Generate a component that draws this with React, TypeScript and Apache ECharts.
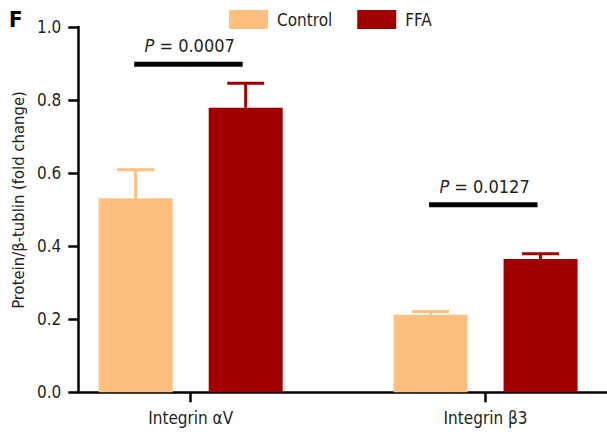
import React, { useEffect, useRef } from "react";
import * as echarts from "echarts";

const categories = ["Integrin αV", "Integrin β3"];
const seriesNames = ["Control", "FFA"];
const controlMean = [0.531, 0.212];
const controlUpper = [0.609, 0.221];
const ffaMean = [0.779, 0.365];
const ffaUpper = [0.846, 0.379];
const sigLevel = [0.898, 0.5135];
const pValues = ["0.0007", "0.0127"];
const yMin = 0;
const yMax = 1;
const yStep = 0.2;

const FONT = "'DejaVu Sans Condensed', 'DejaVu Sans', sans-serif";
const TEXT = "#231f20";
const C_CONTROL = "#ffc07f";
const C_FFA = "#a00000";
const BAR_W = 74;
const BAR_GAP = 36;
const OFFSET = (BAR_W + BAR_GAP) / 2;

function errorSeries(name: string, means: number[], uppers: number[], color: string, dx: number) {
  return {
    type: "custom",
    name,
    xAxisIndex: 1,
    yAxisIndex: 1,
    z: 1,
    data: means.map((m, i) => [i, m, uppers[i]]),
    renderItem: (params: any, api: any) => {
      const ci = api.value(0);
      const base = api.coord([ci, api.value(1)]);
      const top = api.coord([ci, api.value(2)]);
      const x = base[0] + dx;
      return {
        type: "group",
        children: [
          { type: "line", shape: { x1: x, y1: base[1], x2: x, y2: top[1] }, style: { stroke: color, lineWidth: 3 } },
          { type: "line", shape: { x1: x - 18.5, y1: top[1], x2: x + 18.5, y2: top[1] }, style: { stroke: color, lineWidth: 3 } },
        ],
      };
    },
  };
}

export default function App() {
  const ref = useRef<HTMLDivElement>(null);
  useEffect(() => {
    document.body.style.margin = "0";
    const chart = echarts.init(ref.current!, null, { renderer: "svg" });
    chart.setOption({
      animation: false,
      backgroundColor: "#fff",
      textStyle: { fontFamily: FONT, color: TEXT },
      legend: {
        data: seriesNames,
        left: 229,
        top: 10,
        padding: 0,
        itemWidth: 39,
        itemHeight: 19,
        itemGap: 25,
        icon: "rect",
        textStyle: { fontFamily: FONT, fontSize: 17, color: TEXT, padding: [0, 0, 0, 4] },
      },
      grid: [
        { left: 78.3, right: 0, top: 27, bottom: 41.7, outerBoundsMode: "none" },
        { left: 43.25, width: 589.75, top: 27, bottom: 41.7, outerBoundsMode: "none" },
      ],
      xAxis: [
        {
          gridIndex: 0,
          type: "value",
          min: 0,
          max: 1,
          axisLine: { show: true, lineStyle: { color: "#000", width: 2.5 } },
          axisTick: { show: false },
          axisLabel: { show: false },
          splitLine: { show: false },
        },
        {
          gridIndex: 1,
          type: "category",
          data: categories,
          axisLine: { show: false },
          axisTick: { show: true, alignWithLabel: true, length: 10, lineStyle: { color: "#000", width: 2.5 } },
          axisLabel: { fontFamily: FONT, fontSize: 17, color: TEXT, margin: 17 },
          splitLine: { show: false },
        },
      ],
      yAxis: [
        {
          gridIndex: 0,
          type: "value",
          min: yMin,
          max: yMax,
          interval: yStep,
          axisLine: { show: true, lineStyle: { color: "#000", width: 2.5 } },
          axisTick: { show: true, length: 10, lineStyle: { color: "#000", width: 2.5 } },
          axisLabel: {
            fontFamily: FONT,
            fontSize: 17,
            color: TEXT,
            margin: 17,
            formatter: (v: number) => v.toFixed(1),
          },
          splitLine: { show: false },
        },
        {
          gridIndex: 1,
          type: "value",
          min: yMin,
          max: yMax,
          show: false,
          splitLine: { show: false },
        },
      ],
      graphic: [
        {
          type: "text",
          x: 9,
          y: 19,
          style: { text: "F", font: `bold 22px ${FONT}`, fill: "#000", verticalAlign: "middle" },
        },
        {
          type: "text",
          x: 18,
          y: 200,
          rotation: Math.PI / 2,
          style: {
            text: "Protein/β-tublin (fold change)",
            font: `16.5px ${FONT}`,
            fill: TEXT,
            align: "center",
            verticalAlign: "middle",
          },
        },
      ],
      series: [
        {
          type: "bar",
          name: seriesNames[0],
          xAxisIndex: 1,
          yAxisIndex: 1,
          data: controlMean,
          barWidth: BAR_W,
          barGap: `${(BAR_GAP / BAR_W) * 100}%`,
          itemStyle: { color: C_CONTROL },
          z: 2,
        },
        {
          type: "bar",
          name: seriesNames[1],
          xAxisIndex: 1,
          yAxisIndex: 1,
          data: ffaMean,
          barWidth: BAR_W,
          barGap: `${(BAR_GAP / BAR_W) * 100}%`,
          itemStyle: { color: C_FFA },
          z: 2,
        },
        errorSeries("Control error", controlMean, controlUpper, C_CONTROL, -OFFSET),
        errorSeries("FFA error", ffaMean, ffaUpper, C_FFA, OFFSET),
        {
          type: "custom",
          name: "significance",
          xAxisIndex: 1,
          yAxisIndex: 1,
          z: 3,
          data: sigLevel.map((v, i) => [i, v]),
          renderItem: (params: any, api: any) => {
            const p = api.coord([api.value(0), api.value(1)]);
            const cx = p[0];
            const y = p[1];
            return {
              type: "group",
              children: [
                {
                  type: "line",
                  shape: { x1: cx - OFFSET - 1.5, y1: y, x2: cx + OFFSET - 3, y2: y },
                  style: { stroke: "#000", lineWidth: 5 },
                },
                {
                  type: "text",
                  x: cx - 1,
                  y: y - 18.5,
                  style: {
                    text: `{i|P} = ${pValues[params.dataIndex]}`,
                    rich: { i: { fontStyle: "italic", fontSize: 18, fontFamily: FONT, fill: TEXT } },
                    font: `18px ${FONT}`,
                    fill: TEXT,
                    align: "center",
                    verticalAlign: "middle",
                  },
                },
              ],
            };
          },
        },
      ],
    });
    return () => chart.dispose();
  }, []);
  return <div ref={ref} style={{ width: 607, height: 434 }} />;
}
